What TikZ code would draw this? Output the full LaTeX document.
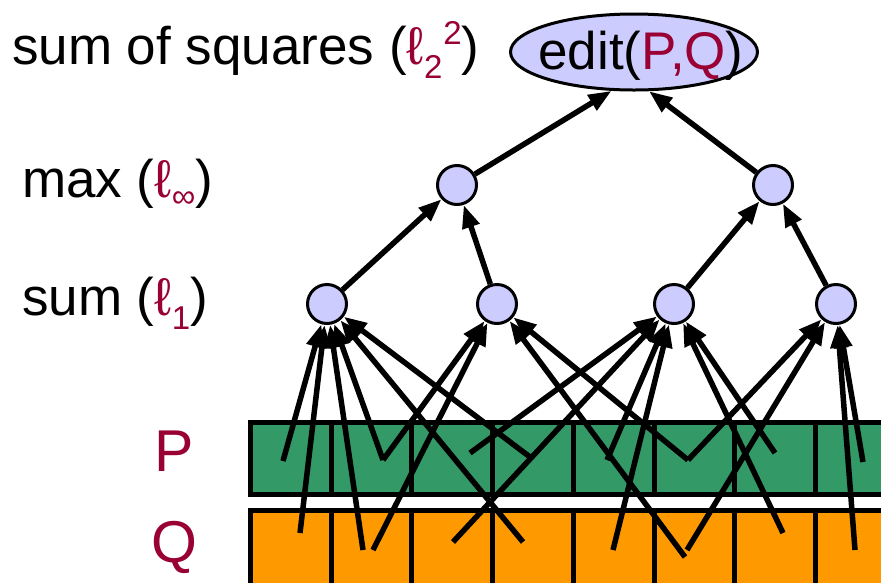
\documentclass[tikz,border=0pt]{standalone}
\usepackage{fontspec}
\setmainfont{Liberation Sans}
\usetikzlibrary{arrows.meta,shapes.geometric}
\definecolor{dred}{HTML}{990033}
\definecolor{nodeblue}{HTML}{CCCCFF}
\definecolor{pgreen}{HTML}{339966}
\definecolor{qorange}{HTML}{FF9900}
\newcommand\subsz{\fontsize{33}{33}\selectfont}
\begin{document}
\begin{tikzpicture}[x=1pt,y=-1pt,
  nd/.style={circle, draw, line width=3pt, fill=nodeblue, minimum size=39pt, inner sep=0pt},
  conn/.style={line width=5.5pt, -{Triangle[length=23pt,width=17pt]}},
  lbl/.style={anchor=base west, inner sep=0pt, font=\fontsize{53}{60}\selectfont},
  rowlbl/.style={anchor=base west, inner sep=0pt, text=dred, font=\fontsize{59}{66}\selectfont},
  cellrow/.style={line width=5pt}]
\useasboundingbox (0,0) rectangle (881,582);
\clip (0,0) rectangle (881,582);
% rows of cells
\draw[cellrow, fill=pgreen] (250.5,422.5) rectangle (910,494);
\draw[cellrow, fill=qorange] (250.5,510.5) rectangle (910,600);
\foreach \x in {331.2,411.9,492.6,573.3,654,734.7,815.4} {
  \draw[cellrow] (\x,422.5) -- (\x,494);
  \draw[cellrow] (\x,510.5) -- (\x,600);
}
% labels
\node[lbl] (tsq) at (12,64) {sum of squares ({\color{dred}ℓ\raisebox{-0.28em}{\subsz 2}\hspace{1pt}\raisebox{0.36em}{\subsz 2}})};
\node[lbl] (tmax) at (22,197) {max ({\color{dred}ℓ\raisebox{-0.2em}{\subsz ∞}})};
\node[lbl] (tsum) at (22,315) {sum ({\color{dred}ℓ\raisebox{-0.28em}{\subsz 1}})};
\node[rowlbl] (tp) at (154,471) {P};
\node[rowlbl] (tq) at (151,562) {Q};
% nodes
\node[ellipse, draw, line width=3pt, fill=nodeblue, minimum width=247pt, minimum height=76pt, inner sep=0pt] (e) at (634,52) {};
\node[anchor=base, inner sep=0pt, font=\fontsize{53}{60}\selectfont] (etext) at (641,69) {edit({\color{dred}P,Q})};
\node[nd] (m1) at (457,185) {};
\node[nd] (m2) at (773,185) {};
\node[nd] (s1) at (327,304) {};
\node[nd] (s2) at (497,304) {};
\node[nd] (s3) at (674,304) {};
\node[nd] (s4) at (836,304) {};
% end points in the cells
\coordinate (P1) at (283,461);
\coordinate (P2) at (383,460);
\coordinate (P3) at (470,453);
\coordinate (P4) at (530,457);
\coordinate (P5) at (607,460);
\coordinate (P6) at (688,460);
\coordinate (P7) at (775,453);
\coordinate (P8) at (863,462);
\coordinate (Q1) at (300,533);
\coordinate (Q2) at (363,550);
\coordinate (Q3) at (373,550);
\coordinate (Q4) at (453,542);
\coordinate (Q5) at (523,542);
\coordinate (Q6) at (613,550);
\coordinate (Q7) at (685,557);
\coordinate (Q8) at (687,550);
\coordinate (Q9) at (783,533);
\coordinate (Q10) at (855,550);
% connectors
\foreach \a in {P1,Q1,Q2,P2,P4,Q5} \draw[conn] (\a) -- (s1);
\foreach \a in {P2,Q3,Q7,P6} \draw[conn] (\a) -- (s2);
\foreach \a in {P3,Q4,P5,Q6,Q9,P7} \draw[conn] (\a) -- (s3);
\foreach \a in {P6,Q8,P8,Q10} \draw[conn] (\a) -- (s4);
\draw[conn] (s1) -- (m1);
\draw[conn] (s2) -- (m1);
\draw[conn] (s3) -- (m2);
\draw[conn] (s4) -- (m2);
\draw[conn] (m1) -- (e.240);
\draw[conn] (m2) -- (e.291);
\end{tikzpicture}
\end{document}
